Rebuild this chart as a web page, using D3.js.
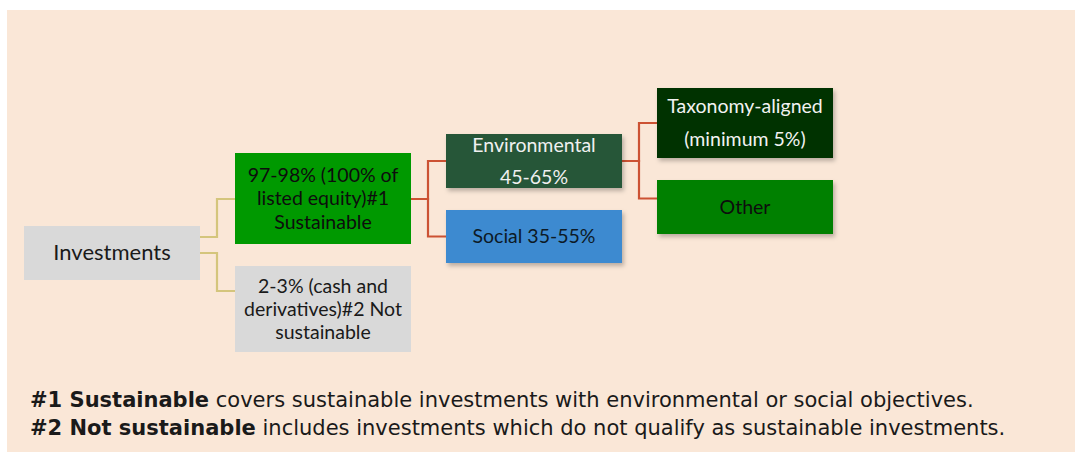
<!DOCTYPE html>
<html>
<head>
<meta charset="utf-8">
<script src="https://cdn.jsdelivr.net/npm/d3@7"></script>
<style>
  body { margin: 0; background: #fff; }
  svg { display: block; }
  .box text { font-family: Lato, sans-serif; text-anchor: middle; }
  .note { font-family: "DejaVu Sans", sans-serif; fill: #1a1a1a; }
</style>
</head>
<body>
<svg id="chart" width="1080" height="452"></svg>
<script>
// tree nodes (label lines + parent index)
const ids = ['inv', 'sust', 'notSust', 'env', 'soc', 'tax', 'other']
const parents = [null, 'inv', 'inv', 'sust', 'sust', 'env', 'env']
const labels = [
  ['Investments'],
  ['97-98% (100% of', 'listed equity)#1', 'Sustainable'],
  ['2-3% (cash and', 'derivatives)#2 Not', 'sustainable'],
  ['Environmental', '45-65%'],
  ['Social 35-55%'],
  ['Taxonomy-aligned', '(minimum 5%)'],
  ['Other']
]
const notes = [
  ['#1 Sustainable', ' covers sustainable investments with environmental or social objectives.'],
  ['#2 Not sustainable', ' includes investments which do not qualify as sustainable investments.']
]

// layout: box top/bottom, text style, where links enter/leave
const layout = {
  inv:     { y0: 226, y1: 280, fill: '#d9d9d9', color: '#1a1a1a', size: 22, gap: 0 },
  sust:    { y0: 153, y1: 244, fill: '#009900', color: '#0d0d0d', size: 19.5, gap: 23.5, inY: 199 },
  notSust: { y0: 266, y1: 352, fill: '#d9d9d9', color: '#1a1a1a', size: 19.5, gap: 23, inY: 291 },
  env:     { y0: 134, y1: 188, fill: '#275739', color: '#f0f0f0', size: 19.5, gap: 32, inY: 161, shadow: true },
  soc:     { y0: 210, y1: 263, fill: '#3e8ad0', color: '#0d1a26', size: 19.5, gap: 0, inY: 236.5, shadow: true },
  tax:     { y0: 88,  y1: 158, fill: '#003300', color: '#f2f2f2', size: 19.5, gap: 33.5, inY: 123, shadow: true },
  other:   { y0: 180, y1: 234, fill: '#008000', color: '#0d0d0d', size: 19.5, gap: 0, inY: 198.5, shadow: true }
}
const outY = { sust: 237, notSust: 253, env: 199, soc: 199, tax: 161, other: 161 }
const linkColor = ['#d4c57c', '#cc5233', '#cc5233']

const svg = d3.select('#chart')

svg.append('rect')
  .attr('x', 7).attr('y', 10)
  .attr('width', 1068).attr('height', 442)
  .attr('fill', '#fae7d7')

const defs = svg.append('defs')
const f = defs.append('filter').attr('id', 'shadow')
  .attr('x', '-10%').attr('y', '-10%').attr('width', '130%').attr('height', '140%')
f.append('feDropShadow')
  .attr('dx', 2).attr('dy', 3).attr('stdDeviation', 2)
  .attr('flood-color', '#000').attr('flood-opacity', 0.25)

const root = d3.stratify()
  .id((d, i) => ids[i])
  .parentId((d, i) => parents[i])(labels)

const x = d3.scaleLinear().domain([0, 1]).range([24, 235])
const boxW = 176

// links (elbow)
svg.append('g').selectAll('path')
  .data(root.links())
  .join('path')
  .attr('fill', 'none')
  .attr('stroke', d => linkColor[d.source.depth])
  .attr('stroke-width', 2.2)
  .attr('d', d => {
    const sx = x(d.source.depth) + boxW
    const tx = x(d.target.depth)
    const mx = sx + 17
    const sy = outY[d.target.id]
    const ty = layout[d.target.id].inY
    return `M${sx},${sy}H${mx}V${ty}H${tx}`
  })

// boxes
const node = svg.append('g').selectAll('g')
  .data(root.descendants())
  .join('g')
  .attr('class', 'box')

node.append('rect')
  .attr('x', d => x(d.depth))
  .attr('y', d => layout[d.id].y0)
  .attr('width', boxW)
  .attr('height', d => layout[d.id].y1 - layout[d.id].y0)
  .attr('fill', d => layout[d.id].fill)
  .attr('filter', d => layout[d.id].shadow ? 'url(#shadow)' : null)

node.append('text')
  .attr('fill', d => layout[d.id].color)
  .style('font-size', d => layout[d.id].size + 'px')
  .each(function(d) {
    const L = layout[d.id]
    const cy = (L.y0 + L.y1) / 2 + 6.5
    const n = d.data.length
    d3.select(this).selectAll('tspan')
      .data(d.data)
      .join('tspan')
      .attr('x', x(d.depth) + boxW / 2)
      .attr('y', (t, i) => cy + (i - (n - 1) / 2) * L.gap)
      .text(t => t)
  })

// notes
const nt = svg.append('g').selectAll('text')
  .data(notes)
  .join('text')
  .attr('class', 'note')
  .attr('x', 30)
  .attr('y', (d, i) => 406.5 + i * 28.5)
  .style('font-size', '21px')

nt.append('tspan').style('font-weight', 'bold').text(d => d[0])
nt.append('tspan').text(d => d[1])
</script>
</body>
</html>
